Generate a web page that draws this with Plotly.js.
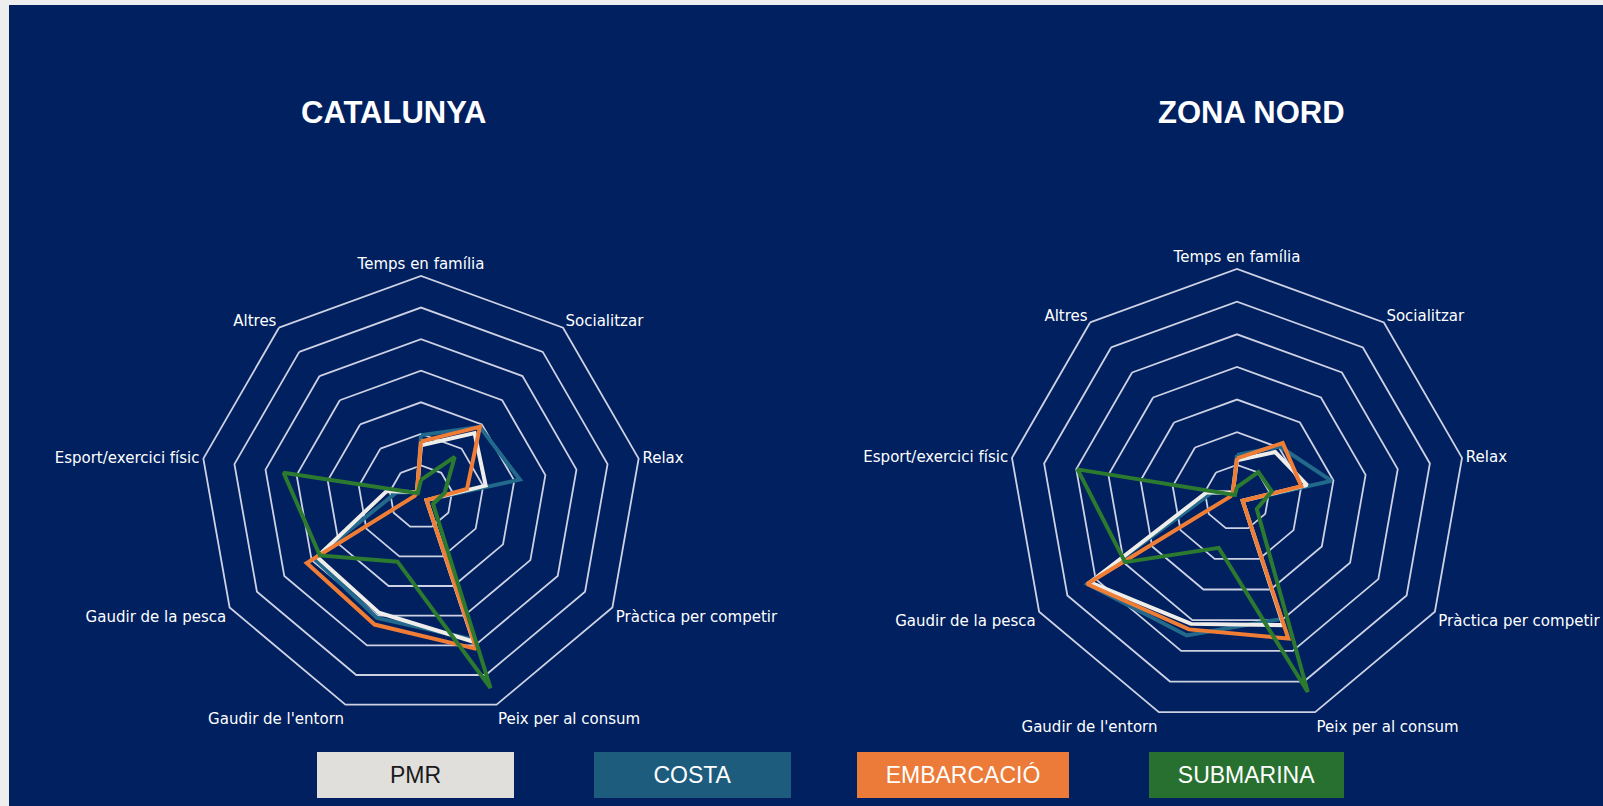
<!DOCTYPE html>
<html>
<head>
<meta charset="utf-8">
<script src="https://cdn.plot.ly/plotly-3.0.1.min.js"></script>
<style>
  html, body { margin: 0; padding: 0; background: #eeeeee; width: 1603px; height: 806px; overflow: hidden; }
  #chart { position: absolute; left: 9px; top: 5px; width: 1594px; height: 801px; }
</style>
</head>
<body>
<div id="chart"></div>
<script>
// Motivations for fishing, share of answers (%) per fishing type
const categories = ['Temps en família', 'Socialitzar', 'Relax', 'Pràctica per competir',
  'Peix per al consum', "Gaudir de l'entorn", 'Gaudir de la pesca', 'Esport/exercici físic', 'Altres'];

const seriesNames = ['PMR', 'COSTA', 'EMBARCACIÓ', 'SUBMARINA'];
const lineColors = ['#efedea', '#22698c', '#ef7d35', '#2b7a30'];
const boxColors = ['#e0dfdc', '#1e5c7e', '#ec7a38', '#287030'];
const boxTextColors = ['#1a1a1a', '#ffffff', '#ffffff', '#ffffff'];

// CATALUNYA
const catPMR = [8.2, 13.2, 10.4, 1.0, 24.4, 19.5, 19.0, 5.5, 1.0];
const catCosta = [9.8, 14.5, 15.9, 1.0, 24.0, 20.4, 19.5, 4.0, 1.0];
const catEmbarcacio = [8.8, 14.5, 7.4, 1.0, 25.6, 21.5, 20.9, 1.0, 1.0];
const catSubmarina = [2.7, 8.3, 3.8, 2.2, 32.2, 10.9, 18.5, 22.1, 0.8];

// ZONA NORD
const nordPMR = [5.7, 9.1, 10.9, 1.0, 20.8, 20.6, 26.0, 4.7, 1.0];
const nordCosta = [6.5, 10.2, 14.7, 1.0, 19.8, 22.5, 26.5, 4.0, 1.0];
const nordEmbarcacio = [6.0, 10.9, 10.0, 1.0, 23.0, 21.5, 26.5, 1.0, 1.0];
const nordSubmarina = [1.6, 5.1, 5.4, 3.5, 31.7, 8.2, 19.8, 24.8, 0.5];

const panels = [
  { title: 'CATALUNYA', polar: 'polar', series: [catPMR, catCosta, catEmbarcacio, catSubmarina] },
  { title: 'ZONA NORD', polar: 'polar2', series: [nordPMR, nordCosta, nordEmbarcacio, nordSubmarina] }
];

// draw order: COSTA under PMR, then EMBARCACIÓ, SUBMARINA on top
const drawOrder = [1, 0, 2, 3];

const traces = [];
panels.forEach(p => {
  drawOrder.forEach(i => {
    const vals = p.series[i];
    traces.push({
      type: 'scatterpolar',
      mode: 'lines',
      subplot: p.polar,
      name: seriesNames[i],
      r: vals.concat(vals[0]),
      theta: categories.concat(categories[0]),
      line: { color: lineColors[i], width: 4 },
      showlegend: false,
      hoverinfo: 'skip'
    });
  });
});

const gridColor = '#cdd1e3';

function polarAxes(domainX, domainY) {
  return {
    domain: { x: domainX, y: domainY },
    bgcolor: 'rgba(0,0,0,0)',
    gridshape: 'linear',
    radialaxis: {
      range: [0, 35],
      dtick: 5,
      showticklabels: false,
      ticks: '',
      showline: false,
      gridcolor: gridColor,
      gridwidth: 1.8
    },
    angularaxis: {
      type: 'category',
      categoryarray: categories,
      direction: 'clockwise',
      rotation: 90,
      showgrid: false,
      ticks: '',
      showline: true,
      linecolor: gridColor,
      linewidth: 1.8,
      tickfont: { family: 'DejaVu Sans, sans-serif', size: 15, color: '#ffffff' }
    }
  };
}

const W = 1594, H = 801;
// chart centres and radius in pixels inside the plot
function dom(cx, cy, R) {
  return [[(cx - R) / W, (cx + R) / W], [(H - cy - R) / H, (H - cy + R) / H]];
}
const d1 = dom(412, 492, 221);
const d2 = dom(1228, 492.5, 228.5);

const annotations = [
  { text: '<b>CATALUNYA</b>', x: 384.6 / W, y: 0.866 },
  { text: '<b>ZONA NORD</b>', x: 1242 / W, y: 0.866 }
].map(a => Object.assign(a, {
  xref: 'paper', yref: 'paper', showarrow: false, xanchor: 'center', yanchor: 'middle',
  font: { family: 'Liberation Sans, Arial, sans-serif', size: 31, color: '#ffffff' }
}));

// colour boxes of the key
const keyX = [406.5, 683.6, 954, 1237.6];
const keyW = [195, 195, 210, 193];
seriesNames.forEach((name, i) => {
  annotations.push({
    text: name,
    xref: 'paper', yref: 'paper', x: keyX[i] / W, y: 30.6 / H,
    xanchor: 'center', yanchor: 'middle', showarrow: false,
    width: keyW[i], height: 44, align: 'center', valign: 'middle',
    bgcolor: boxColors[i], borderpad: 1, borderwidth: 0,
    font: { family: 'Liberation Sans, Arial, sans-serif', size: 23, color: boxTextColors[i] }
  });
});

const layout = {
  width: W,
  height: H,
  margin: { l: 0, r: 0, t: 0, b: 0 },
  paper_bgcolor: '#00205f',
  plot_bgcolor: '#00205f',
  showlegend: false,
  polar: polarAxes(d1[0], d1[1]),
  polar2: polarAxes(d2[0], d2[1]),
  annotations: annotations
};

Plotly.newPlot('chart', traces, layout, { displayModeBar: false, staticPlot: true });
</script>
</body>
</html>
